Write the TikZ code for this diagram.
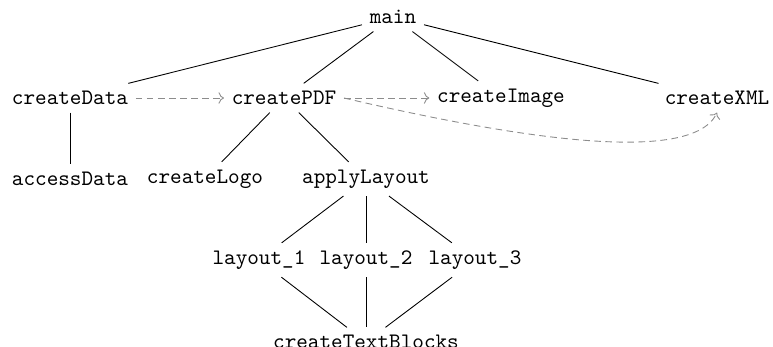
\documentclass[tikz,border=0pt]{standalone}
\usetikzlibrary{arrows.meta}
\begin{document}
\begin{tikzpicture}[
  x={(0.4525pt,0)}, y={(0,-0.4525pt)},
  fn/.style={font=\ttfamily},
  call/.style={draw=black, line width=0.4pt},
  dep/.style={draw=black!45, densely dashed, ->}
]
\useasboundingbox (0,0) rectangle (773,347);

% functions
\node[fn] (main)        at (393,17)  {main};
\node[fn] (createData)  at (70,98)   {createData};
\node[fn] (createPDF)   at (284,98)  {createPDF};
\node[fn] (createImage) at (501,98)  {createImage};
\node[fn] (createXML)   at (717,98)  {createXML};
\node[fn] (accessData)  at (70,179)  {accessData};
\node[fn] (createLogo)  at (205,179) {createLogo};
\node[fn] (applyLayout) at (366,179) {applyLayout};
\node[fn] (layoutA)     at (259,260) {layout\_1};
\node[fn] (layoutB)     at (366,260) {layout\_2};
\node[fn] (layoutC)     at (475,260) {layout\_3};
\node[fn] (textBlocks)  at (366,342) {createTextBlocks};

% call tree
\draw[call] (main) -- (createData);
\draw[call] (main) -- (createPDF);
\draw[call] (main) -- (createImage);
\draw[call] (main) -- (createXML);
\draw[call] (createData) -- (accessData);
\draw[call] (createPDF) -- (createLogo);
\draw[call] (createPDF) -- (applyLayout);
\draw[call] (applyLayout) -- (layoutA);
\draw[call] (applyLayout) -- (layoutB);
\draw[call] (applyLayout) -- (layoutC);
\draw[call] (layoutA) -- (textBlocks);
\draw[call] (layoutB) -- (textBlocks);
\draw[call] (layoutC) -- (textBlocks);

% data dependencies
\draw[dep] (createData) -- (createPDF);
\draw[dep] (createPDF) -- (createImage);
\draw[dep] (createPDF.east) .. controls +(137,32) and +(-27,58) .. (createXML.south);
\end{tikzpicture}
\end{document}
